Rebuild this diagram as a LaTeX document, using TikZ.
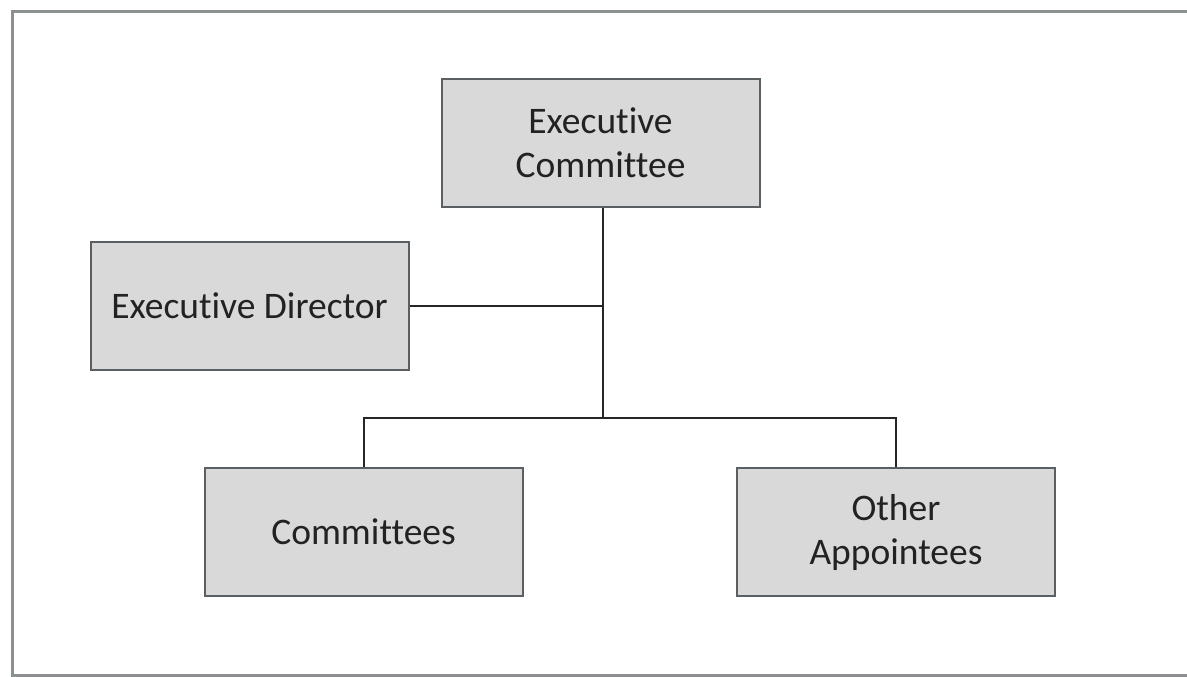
\documentclass[tikz,border=0pt]{standalone}
\usepackage{fontspec}
\setmainfont[Ligatures=NoCommon]{Carlito}
\definecolor{boxfill}{HTML}{D9D9D9}
\definecolor{boxline}{HTML}{5A5F63}
\definecolor{frameline}{HTML}{8C9090}
\definecolor{txt}{HTML}{222222}
\begin{document}
\begin{tikzpicture}[x=1pt,y=-1pt,
  orgbox/.style={draw=boxline, line width=2pt, fill=boxfill, minimum width=318pt, minimum height=128pt,
    align=center, text=txt, font=\fontsize{37.5}{44}\selectfont, inner sep=0pt},
  link/.style={draw=black!85, line width=2pt}]
\useasboundingbox (0,0) rectangle (1187,677);
\begin{scope}
\clip (0,0) rectangle (1187,677);
\draw[frameline, line width=3pt] (1200,12) -- (12,12) -- (12,675) -- (1200,675);
\end{scope}
\node[orgbox] (ec) at (600.5,143) {Executive\\Committee};
\node[orgbox] (ed) at (249.5,306) {Executive Director};
\node[orgbox] (cm) at (363.5,532) {Committees};
\node[orgbox] (oa) at (896,532) {Other\\Appointees};
\coordinate (j) at (603,306);
\coordinate (bus) at (603,418);
\draw[link] (ec.south -| j) -- (bus);
\draw[link] (ed.east) -- (j);
\draw[link] (cm.north) |- (bus) -| (oa.north);
\end{tikzpicture}
\end{document}
